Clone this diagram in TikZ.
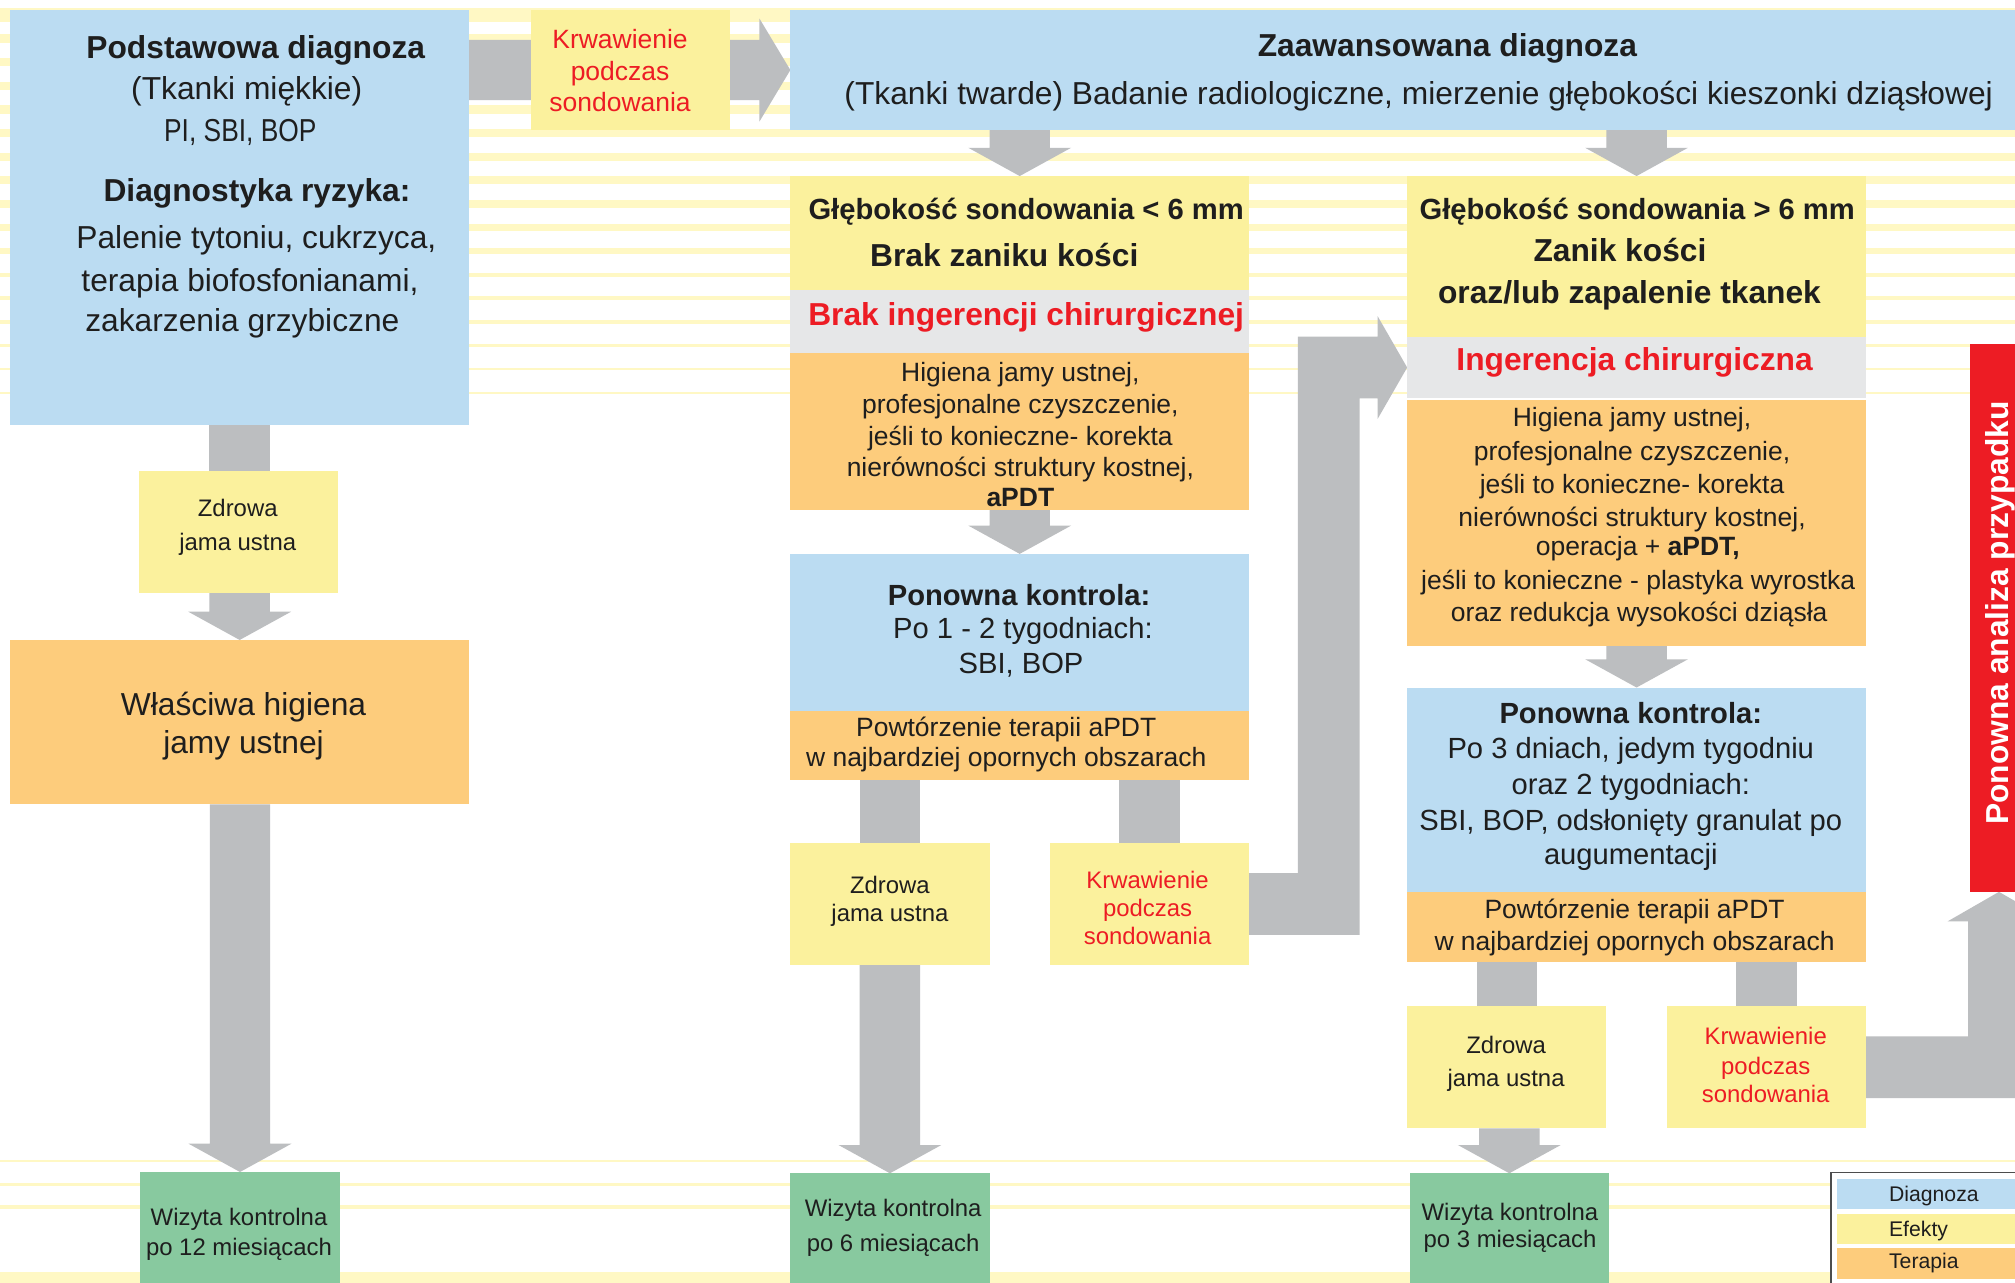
\documentclass[tikz,border=0pt]{standalone}
\usepackage{fontspec}
\setmainfont{Liberation Sans}
\usetikzlibrary{calc}
\pgfdeclarelayer{bg}
\pgfdeclarelayer{arr}
\pgfsetlayers{bg,arr,main}
\definecolor{cblue}{RGB}{187,220,242}
\definecolor{cyel}{RGB}{251,241,157}
\definecolor{corg}{RGB}{253,204,124}
\definecolor{cgrn}{RGB}{136,201,159}
\definecolor{cgry}{RGB}{230,231,232}
\definecolor{carw}{RGB}{188,190,192}
\definecolor{cred}{RGB}{237,28,36}
\definecolor{cstr}{RGB}{255,248,196}
\definecolor{ctxt}{RGB}{30,30,30}
\definecolor{cleg}{RGB}{77,77,77}
\newcommand\tl[5]{\node[#4, anchor=base] (#1) at (#2,#3) {#5};}
\newcommand\vblk[3]{\path[fill=carw] let \p1=(#1), \p2=(#2), \p3=(#3) in
  (\x1-23.5pt,\y2) -- (\x1+23.5pt,\y2) -- (\x1+23.5pt,\y3+22pt) -- (\x1+40pt,\y3+22pt)
  -- (\x1,\y3) -- (\x1-40pt,\y3+22pt) -- (\x1-23.5pt,\y3+22pt) -- cycle;}
\newcommand\vshaft[3]{\path[fill=carw] let \p1=(#1), \p2=(#2), \p3=(#3) in
  (\x1-23.5pt,\y2) rectangle (\x1+23.5pt,\y3);}
\tikzset{
  bx/.style={rectangle, anchor=north west, inner sep=0pt, outer sep=0pt, draw=none},
  txt/.style={inner sep=0pt, outer sep=0pt, text=ctxt},
  fL/.style={txt, font=\fontsize{24.7}{29}\selectfont},
  fLb/.style={txt, font=\fontsize{24.7}{29}\selectfont\bfseries},
  fH/.style={txt, font=\fontsize{22.7}{27}\selectfont},
  fHb/.style={txt, font=\fontsize{22.7}{27}\selectfont\bfseries},
  fM/.style={txt, font=\fontsize{20.6}{24}\selectfont},
  fS/.style={txt, font=\fontsize{18.6}{22}\selectfont},
  fG/.style={txt, font=\fontsize{16.5}{20}\selectfont},
}
\begin{document}
\begin{tikzpicture}[x=1pt,y=-1pt]
\clip (0,0) rectangle (1568,998);
\begin{pgfonlayer}{bg}
  \fill[white] (0,0) rectangle (1568,998);
  \foreach \k/\t in {0/11,1/6.5,2/6.5,3/6.5,4/6.5,5/6,6/6,7/6,8/6,9/5.5,10/4.7,11/3.2,12/3.2,13/3.2,14/1.7,15/1.7,16/1.7}{
    \fill[cstr] (0,{11.7+18.37*\k-\t/2}) rectangle (1568,{11.7+18.37*\k+\t/2});
  }
  \foreach \c/\t in {903.5/1.6,921.5/2.3,939.3/3.1,994/8}{
    \fill[cstr] (0,{\c-\t/2}) rectangle (1568,{\c+\t/2});
  }
\end{pgfonlayer}

% ---- boxes ----
\node[bx, fill=cblue, minimum width=357pt, minimum height=323pt] (pod) at (8,8) {};
\node[bx, fill=cyel, minimum width=155pt, minimum height=93pt] (krt) at (413,8) {};
\node[bx, fill=cblue, minimum width=960pt, minimum height=93pt] (zaa) at (615,8) {};
\node[bx, fill=cyel, minimum width=357pt, minimum height=89pt] (g1) at (615,137) {};
\node[bx, fill=cgry, minimum width=357pt, minimum height=49pt] (bi) at (615,226) {};
\node[bx, fill=corg, minimum width=357pt, minimum height=122pt] (t1) at (615,275) {};
\node[bx, fill=cblue, minimum width=357pt, minimum height=122pt] (pk1) at (615,431) {};
\node[bx, fill=corg, minimum width=357pt, minimum height=54pt] (pt1) at (615,553) {};
\node[bx, fill=cyel, minimum width=155pt, minimum height=95pt] (z1) at (615,656) {};
\node[bx, fill=cyel, minimum width=155pt, minimum height=95pt] (k1) at (817,656) {};
\node[bx, fill=cgrn, minimum width=155pt, minimum height=95pt] (w1) at (615,913) {};
\node[bx, fill=cyel, minimum width=357pt, minimum height=125pt] (g2) at (1095,137) {};
\node[bx, fill=cgry, minimum width=357pt, minimum height=48pt] (ing) at (1095,262) {};
\node[bx, fill=corg, minimum width=357pt, minimum height=191pt] (t2) at (1095,311.5) {};
\node[bx, fill=cblue, minimum width=357pt, minimum height=159pt] (pk2) at (1095,535) {};
\node[bx, fill=corg, minimum width=357pt, minimum height=54.5pt] (pt2) at (1095,694) {};
\node[bx, fill=cyel, minimum width=155pt, minimum height=95pt] (z2) at (1095,783) {};
\node[bx, fill=cyel, minimum width=155pt, minimum height=95pt] (k2) at (1297,783) {};
\node[bx, fill=cgrn, minimum width=155pt, minimum height=95pt] (w2) at (1097,913) {};
\node[bx, fill=cyel, minimum width=155pt, minimum height=95pt] (zl) at (108,366.5) {};
\node[bx, fill=corg, minimum width=357pt, minimum height=128pt] (wh) at (8,498) {};
\node[bx, fill=cgrn, minimum width=155.5pt, minimum height=95pt] (w0) at (109,912) {};
\node[bx, fill=cred, minimum width=45pt, minimum height=426pt] (red) at (1533,268) {};

% ---- legend ----
\node[bx, draw=cleg, line width=1.2pt, fill=white, minimum width=160pt, minimum height=100pt] (leg) at (1425,912.5) {};
\node[bx, fill=cblue, minimum width=150pt, minimum height=23.3pt] (leg-d) at (1429.6,917.7) {};
\node[bx, fill=cyel, minimum width=150pt, minimum height=23pt] (leg-e) at (1429.6,945) {};
\node[bx, fill=corg, minimum width=150pt, minimum height=24pt] (leg-t) at (1429.6,971.5) {};
\node[fG, anchor=base west] (leg-d-t) at (1470,935) {Diagnoza};
\node[fG, anchor=base west] (leg-e-t) at (1470,962.4) {Efekty};
\node[fG, anchor=base west] (leg-t-t) at (1470,987) {Terapia};

% ---- arrows ----
\begin{pgfonlayer}{arr}
  \path[fill=carw] let \p1=(pod.east), \p2=(zaa.west) in
    (\x1,\y2+23.5pt) -- (\x2-24pt,\y2+23.5pt) -- (\x2-24pt,\y2+40pt) -- (\x2,\y2)
    -- (\x2-24pt,\y2-40pt) -- (\x2-24pt,\y2-23.5pt) -- (\x1,\y2-23.5pt) -- cycle;
  \vblk{g1.north}{zaa.south}{g1.north}
  \vblk{g2.north}{zaa.south}{g2.north}
  \vblk{pk1.north}{t1.south}{pk1.north}
  \vblk{pk2.north}{t2.south}{pk2.north}
  \vshaft{wh.north}{pod.south}{zl.north}
  \vblk{wh.north}{zl.south}{wh.north}
  \vblk{w0.north}{wh.south}{w0.north}
  \vshaft{z1.north}{pt1.south}{z1.north}
  \vshaft{k1.north}{pt1.south}{k1.north}
  \vblk{w1.north}{z1.south}{w1.north}
  \vshaft{z2.north}{pt2.south}{z2.north}
  \vshaft{k2.north}{pt2.south}{k2.north}
  \vblk{w2.north}{z2.south}{w2.north}
  \coordinate (e1) at (1034,703.5);
  \path[fill=carw] let \p1=(k1.east), \p2=(ing.west), \p3=(e1) in
    (\x1,\y1+24pt) -- (\x3-24pt,\y1+24pt) -- (\x3-24pt,\y2+24pt) -- (\x2-23pt,\y2+24pt)
    -- (\x2-23pt,\y2+40pt) -- (\x2,\y2) -- (\x2-23pt,\y2-40pt) -- (\x2-23pt,\y2-24pt)
    -- (\x3+24pt,\y2-24pt) -- (\x3+24pt,\y1-24pt) -- (\x1,\y1-24pt) -- cycle;
  \path[fill=carw] let \p1=(k2.east), \p2=(red.south) in
    (\x1,\y1+24pt) -- (\x2-24pt,\y1+24pt) -- (\x2-24pt,\y2-23pt) -- (\x2-40pt,\y2-23pt)
    -- (\x2,\y2) -- (\x2+40pt,\y2-23pt) -- (\x2+24pt,\y2-23pt) -- (\x2+24pt,\y1-24pt)
    -- (\x1,\y1-24pt) -- cycle;
\end{pgfonlayer}

% ---- texts ----
\tl{pod-1}{199}{45.4}{fLb}{Podstawowa diagnoza}
\tl{pod-2}{192}{77.8}{fL}{(Tkanki miękkie)}
\tl{pod-3}{187}{110}{fL}{\scalebox{0.83}[1]{PI, SBI, BOP}}
\tl{pod-4}{200}{157}{fLb}{Diagnostyka ryzyka:}
\tl{pod-5}{199.5}{193}{fL}{Palenie tytoniu, cukrzyca,}
\tl{pod-6}{194.5}{227}{fL}{terapia biofosfonianami,}
\tl{pod-7}{188.6}{258}{fL}{zakarzenia grzybiczne}

\tl{krt-1}{482.5}{37.6}{fM, text=cred}{Krwawienie}
\tl{krt-2}{482.5}{62.3}{fM, text=cred}{podczas}
\tl{krt-3}{482.5}{86.9}{fM, text=cred}{sondowania}

\tl{zaa-1}{1126.3}{44}{fLb}{Zaawansowana diagnoza}
\tl{zaa-2}{1104}{81.7}{fL}{(Tkanki twarde) Badanie radiologiczne, mierzenie głębokości kieszonki dziąsłowej}

\tl{g1-1}{798.5}{171}{fHb}{Głębokość sondowania < 6 mm}
\tl{g1-2}{781.5}{207.5}{fLb}{Brak zaniku kości}
\tl{bi-1}{798.5}{253}{fLb, text=cred}{Brak ingerencji chirurgicznej}
\tl{t1-1}{794}{297}{fM}{Higiena jamy ustnej,}
\tl{t1-2}{794}{321.7}{fM}{profesjonalne czyszczenie,}
\tl{t1-3}{794}{346.3}{fM}{jeśli to konieczne- korekta}
\tl{t1-4}{794}{371}{fM}{nierówności struktury kostnej,}
\tl{t1-5}{794}{394}{fM}{\bfseries aPDT}
\tl{pk1-1}{793}{470.8}{fHb}{Ponowna kontrola:}
\tl{pk1-2}{796}{496.8}{fH}{Po 1 - 2 tygodniach:}
\tl{pk1-3}{794.5}{524}{fH}{SBI, BOP}
\tl{pt1-1}{783}{573.3}{fM}{Powtórzenie terapii aPDT}
\tl{pt1-2}{783}{596.6}{fM}{w najbardziej opornych obszarach}
\tl{z1-1}{692.5}{695.6}{fS}{Zdrowa}
\tl{z1-2}{692.5}{717.4}{fS}{jama ustna}
\tl{k1-1}{893}{691.7}{fS, text=cred}{Krwawienie}
\tl{k1-2}{893}{713.4}{fS, text=cred}{podczas}
\tl{k1-3}{893}{735}{fS, text=cred}{sondowania}
\tl{w1-1}{695}{946.8}{fS}{Wizyta kontrolna}
\tl{w1-2}{695}{974}{fS}{po 6 miesiącach}

\tl{g2-1}{1274}{171}{fHb}{Głębokość sondowania > 6 mm}
\tl{g2-2}{1260.6}{203.6}{fLb}{Zanik kości}
\tl{g2-3}{1268}{236}{fLb}{oraz/lub zapalenie tkanek}
\tl{ing-1}{1272}{288}{fLb, text=cred}{Ingerencja chirurgiczna}
\tl{t2-1}{1270}{332}{fM}{Higiena jamy ustnej,}
\tl{t2-2}{1270}{358}{fM}{profesjonalne czyszczenie,}
\tl{t2-3}{1270}{384}{fM}{jeśli to konieczne- korekta}
\tl{t2-4}{1270}{410}{fM}{nierówności struktury kostnej,}
\tl{t2-5}{1274.5}{432}{fM}{operacja + \textbf{aPDT,}}
\tl{t2-6}{1274.8}{459}{fM}{jeśli to konieczne - plastyka wyrostka}
\tl{t2-7}{1275.5}{483.8}{fM}{oraz redukcja wysokości dziąsła}
\tl{pk2-1}{1269}{563}{fHb}{Ponowna kontrola:}
\tl{pk2-2}{1269}{590}{fH}{Po 3 dniach, jedym tygodniu}
\tl{pk2-3}{1269}{618}{fH}{oraz 2 tygodniach:}
\tl{pk2-4}{1269}{646}{fH}{SBI, BOP, odsłonięty granulat po}
\tl{pk2-5}{1269}{672.5}{fH}{augumentacji}
\tl{pt2-1}{1272}{715}{fM}{Powtórzenie terapii aPDT}
\tl{pt2-2}{1272}{739.8}{fM}{w najbardziej opornych obszarach}
\tl{z2-1}{1172}{820}{fS}{Zdrowa}
\tl{z2-2}{1172}{845.7}{fS}{jama ustna}
\tl{k2-1}{1374}{813}{fS, text=cred}{Krwawienie}
\tl{k2-2}{1374}{836}{fS, text=cred}{podczas}
\tl{k2-3}{1374}{857.6}{fS, text=cred}{sondowania}
\tl{w2-1}{1175}{950}{fS}{Wizyta kontrolna}
\tl{w2-2}{1175}{971}{fS}{po 3 miesiącach}

\tl{zl-1}{185}{402}{fS}{Zdrowa}
\tl{zl-2}{185}{428}{fS}{jama ustna}
\tl{wh-1}{189.5}{556.4}{fL}{Właściwa higiena}
\tl{wh-2}{189.5}{586.3}{fL}{jamy ustnej}
\tl{w0-1}{186}{954}{fS}{Wizyta kontrolna}
\tl{w0-2}{186}{976.6}{fS}{po 12 miesiącach}

\node[fLb, text=white, rotate=90, anchor=base] (red-t) at (1562.6,477) {Ponowna analiza przypadku};
\end{tikzpicture}
\end{document}
